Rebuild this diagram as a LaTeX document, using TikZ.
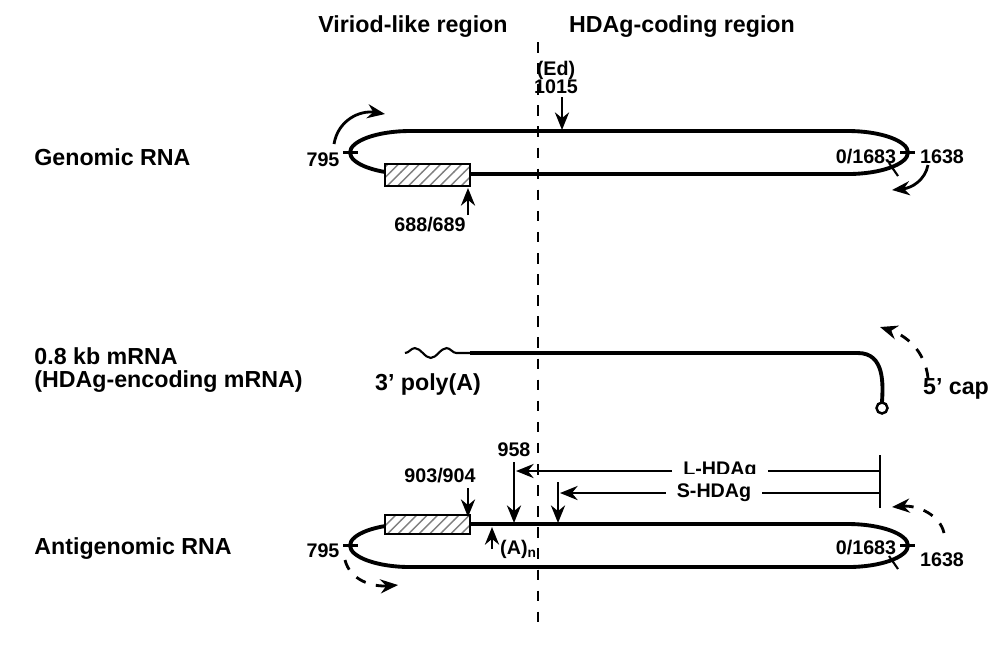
\documentclass[tikz,border=0pt]{standalone}
\usepackage{fontspec}
\setmainfont{Liberation Sans}
\usetikzlibrary{patterns,decorations.pathmorphing,arrows.meta}
\begin{document}
\begin{tikzpicture}[x=0.01cm,y=-0.01cm,
  lbl/.style={font=\fontsize{6.6}{7.5}\selectfont\bfseries},
  num/.style={font=\fontsize{5.6}{6.5}\selectfont\bfseries},
  rna/.style={line width=1.1pt},
  arr/.style={line width=0.8pt,-{Stealth[length=5pt,width=4pt]}},
  tick/.style={line width=0.6pt},
  box/.style={draw,line width=0.5pt,pattern=north east lines,pattern color=gray}]
\useasboundingbox (0,0) rectangle (1000,647);

% headers and divider
\node[lbl] (hv) at (413,27) {Viriod-like region};
\node[lbl] (hh) at (682,27) {HDAg-coding region};
\draw[dashed,line width=0.6pt] (538,42) -- (538,632);

% genomic RNA
\node[lbl,anchor=west] (g) at (22,157) {Genomic RNA};
\draw[rna] (410,131) -- (848,131) .. controls (881,131) and (908,141) .. (908,152.5)
  .. controls (908,164) and (881,174) .. (848,174) -- (410,174)
  .. controls (377,174) and (350,164) .. (350,152.5)
  .. controls (350,141) and (377,131) .. (410,131);
\filldraw[box,fill=white] (385,164) rectangle (470,186);
\draw[box] (385,164) rectangle (470,186);
\draw[tick] (343,152.5) -- (358,152.5);
\draw[tick] (900,152.5) -- (915,152.5);
\draw[tick] (889,163) -- (898,176);
\node[num] at (323,160) {795};
\node[num] at (866,157) {0/1683};
\node[num] at (942,157) {1638};
\node[num] at (556,70) {(Ed)};
\node[num] at (556,87) {1015};
\draw[arr] (562,97) -- (562,130);
\draw[arr] (468,215) -- (468,188);
\node[num] at (430,225) {688/689};
\draw[arr] (334,144) .. controls (338,120) and (360,110) .. (385,114);
\draw[arr] (928,165) .. controls (925,180) and (912,188) .. (892,190);

% mRNA
\node[lbl,anchor=west] at (22,356) {0.8 kb mRNA};
\node[lbl,anchor=west] at (22,382) {(HDAg-encoding mRNA)};
\draw[line width=0.6pt,decorate,decoration={snake,amplitude=1.4pt,segment length=9pt}] (405,353) -- (470,353);
\draw[rna] (470,353) -- (858,353) .. controls (885,353) and (883,385) .. (882,402);
\draw[line width=0.7pt,fill=white] (882,408) circle (5.5);
\node[lbl] at (428,384) {3' poly(A)};
\node[lbl] at (956,389) {5' cap};
\draw[arr,dashed] (928,378) .. controls (925,350) and (905,335) .. (880,327);

% antigenomic RNA
\node[lbl,anchor=west] at (22,549) {Antigenomic RNA};
\draw[rna] (410,524) -- (848,524) .. controls (881,524) and (908,534) .. (908,545.5)
  .. controls (908,557) and (881,567) .. (848,567) -- (410,567)
  .. controls (377,567) and (350,557) .. (350,545.5)
  .. controls (350,534) and (377,524) .. (410,524);
\filldraw[box,fill=white] (385,515) rectangle (470,534);
\draw[box] (385,515) rectangle (470,534);
\draw[tick] (343,545.5) -- (358,545.5);
\draw[tick] (900,545.5) -- (915,545.5);
\draw[tick] (889,556) -- (898,569);
\node[num] at (323,551) {795};
\node[num] at (866,548) {0/1683};
\node[num] at (942,560) {1638};
\node[num] at (440,476) {903/904};
\draw[arr] (468,488) -- (468,517);
\node[num] at (514,450) {958};
\draw[arr] (514,462) -- (514,523);
\draw[arr] (558,482) -- (558,523);
\draw[arr] (492,549) -- (492,527);
\node[num,anchor=west,inner sep=1pt] at (496,549) {(A)$_{\mathbf n}$};
\draw[line width=0.8pt] (880,455) -- (880,508);
\node[num,fill=white,inner sep=3pt] (L) at (720,471) {L-HDAg};
\node[num,fill=white,inner sep=3pt] (S) at (714,493) {S-HDAg};
\draw[arr] (L.west) -- (516,471);
\draw[line width=0.6pt] (L.east) -- (880,471);
\draw[arr] (S.west) -- (560,493);
\draw[line width=0.6pt] (S.east) -- (880,493);
\draw[arr,dashed] (345,560) .. controls (350,580) and (372,587) .. (398,585);
\draw[arr,dashed] (944,533) .. controls (940,515) and (918,505) .. (892,507);
\end{tikzpicture}
\end{document}
